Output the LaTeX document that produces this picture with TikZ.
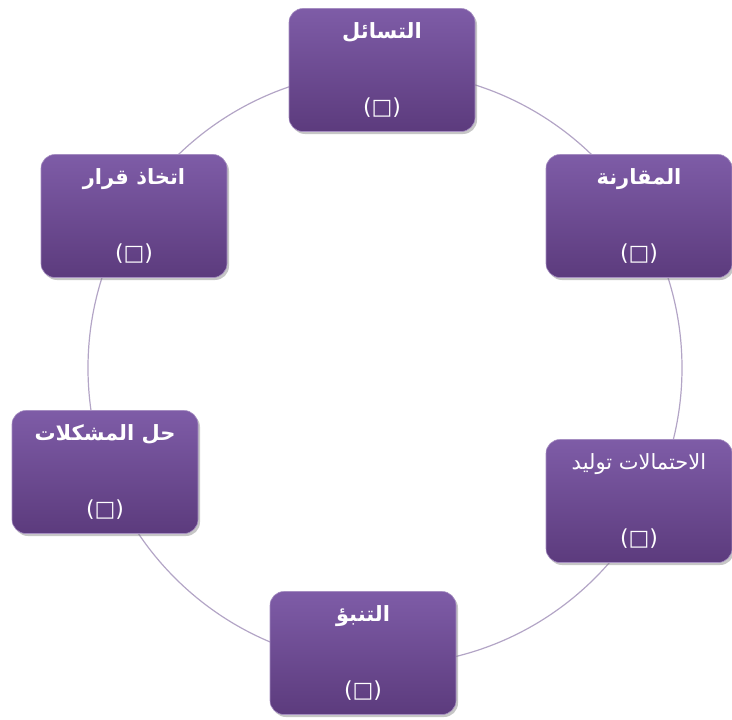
\documentclass[tikz,border=0pt]{standalone}
\usepackage{fontspec}
\usetikzlibrary{shadows}
\newfontfamily\arabicfont[Script=Arabic]{DejaVu Sans}
\newfontfamily\markfont{DejaVu Sans}
\TeXXeTstate=1
\definecolor{boxtop}{HTML}{7E5CA7}
\definecolor{boxbot}{HTML}{5C3B7D}
\definecolor{ringcol}{HTML}{B3A5C6}
\newcommand{\stagetext}[1]{{\arabicfont\bfseries\beginR #1\endR}\\[50pt]{\markfont\fontsize{22}{26}\selectfont (\char"25A1)}}
\begin{document}
\begin{tikzpicture}[x=1pt,y=-1pt,
	stage/.style={rectangle,rounded corners=14pt,top color=boxtop,bottom color=boxbot,
		draw=boxtop!70!white,line width=0.6pt,minimum width=186pt,minimum height=123pt,
		text=white,align=center,font=\fontsize{21}{26}\selectfont,
		drop shadow={opacity=0.45,shadow xshift=2pt,shadow yshift=-2.5pt}}]
	\useasboundingbox (0,0) rectangle (732,720);
	% ring behind the boxes
	\draw[ringcol,line width=1.2pt] (385,368) circle (297);
	\node[stage] (ask) at (382,70) {\stagetext{التسائل}};
	\node[stage] (cmp) at (639,216) {\stagetext{المقارنة}};
	\node[stage] (gen) at (639,501) {\stagetext{\mdseries الاحتمالات توليد}};
	\node[stage] (pred) at (363,653) {\stagetext{التنبؤ}};
	\node[stage] (solve) at (105,472) {\stagetext{حل المشكلات}};
	\node[stage] (dec) at (134,216) {\stagetext{اتخاذ قرار}};
	%\node at (385,368) {};
\end{tikzpicture}
\end{document}
